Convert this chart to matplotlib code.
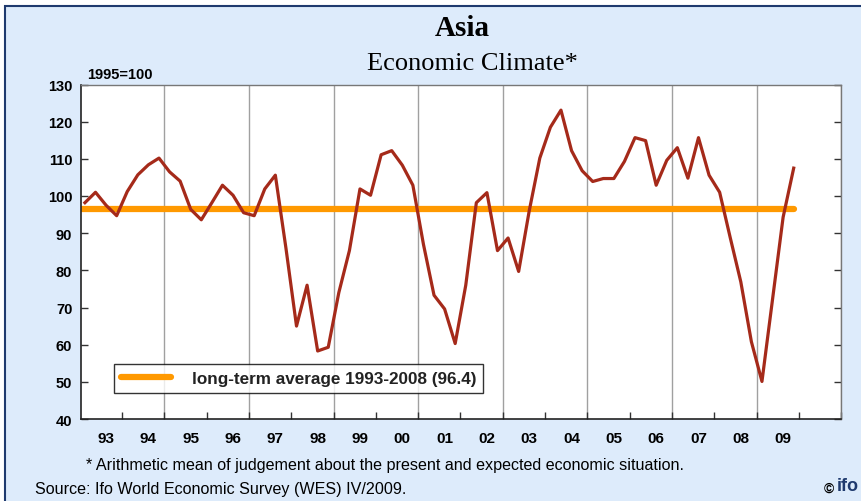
import numpy as np
import matplotlib
matplotlib.use('Agg')
import matplotlib.pyplot as plt
from matplotlib.patches import Rectangle

# quarterly values 1993 Q1 .. 2009 Q4 (1995=100)
years = ['93', '94', '95', '96', '97', '98', '99', '00', '01',
         '02', '03', '04', '05', '06', '07', '08', '09']
climate = [
    98.2, 101.0, 97.5, 94.7,
    101.2, 105.7, 108.4, 110.2,
    106.5, 104.0, 96.4, 93.6,
    98.2, 102.9, 100.2, 95.5,
    94.7, 101.9, 105.6, 86.0,
    65.0, 76.0, 58.3, 59.3,
    74.0, 85.3, 101.9, 100.2,
    111.1, 112.2, 108.3, 102.9,
    87.0, 73.3, 69.6, 60.3,
    76.0, 98.2, 100.9, 85.3,
    88.7, 79.7, 96.0, 110.2,
    118.5, 123.1, 112.2, 106.8,
    103.9, 104.7, 104.7, 109.3,
    115.7, 114.9, 102.9, 109.6,
    113.0, 104.8, 115.7, 105.6,
    101.0, 88.8, 76.9, 60.8,
    50.1, 72.2, 94.3, 107.5,
]
long_term_avg = 96.4
y_ticks = [40, 50, 60, 70, 80, 90, 100, 110, 120, 130]

bg = '#DDEBFB'
sans = ['Liberation Sans', 'DejaVu Sans']
serif = ['Liberation Serif', 'DejaVu Serif']

fig = plt.figure(figsize=(8.61, 5.02), dpi=100)
fig.patch.set_facecolor('white')
# light blue panel with dark blue border
panel = Rectangle((5 / 861, -0.1), 1.1, 1 - 7 / 502 + 0.1,
                  transform=fig.transFigure, facecolor=bg,
                  edgecolor='#1F3A6E', linewidth=1.5, zorder=-10)
fig.patches.append(panel)

ax = fig.add_axes([80.7 / 861, 1 - 420 / 502, (841.3 - 80.7) / 861, (420 - 85.5) / 502])
ax.set_zorder(1)
ax.set_facecolor('white')

x = np.arange(len(climate))
ax.plot([-0.3, len(climate) - 1], [long_term_avg, long_term_avg],
        color='#FF9900', linewidth=4.5, solid_capstyle='round', zorder=2,
        label='long-term average 1993-2008 (96.4)')
ax.plot(x, climate, color='#A52A1A', linewidth=2.3, zorder=3)

ax.set_xlim(-0.4, 71.5)
ax.set_ylim(40, 130)
ax.set_yticks(y_ticks)
ax.set_yticklabels([str(v) for v in y_ticks], fontsize=10.5, fontweight='bold', family=sans)

# year boundaries as ticks, every second one as grid line
bounds = np.arange(3.5, 72, 4)
ax.set_xticks(bounds)
ax.set_xticklabels([])
for b in bounds[1::2]:
    ax.axvline(b, color='#A0A0A0', linewidth=1.0, zorder=1)
for i, yr in enumerate(years):
    ax.text(4 * i + 2, -0.035, yr, transform=ax.get_xaxis_transform(),
            ha='center', va='top', fontsize=11, fontweight='bold', family=sans)

ax.tick_params(axis='x', direction='in', length=5, width=1, color='#333333')
ax.tick_params(axis='y', direction='in', length=5, width=1, color='#333333',
               left=True, right=True, pad=6)
for side in ['left', 'bottom']:
    ax.spines[side].set_color('#222222')
    ax.spines[side].set_linewidth(1.2)
for side in ['top', 'right']:
    ax.spines[side].set_color('#777777')
    ax.spines[side].set_linewidth(1.0)

leg = ax.legend(loc='lower left', bbox_to_anchor=(0.044, 0.078), borderaxespad=0,
                frameon=True, fancybox=False, handlelength=2.9, handletextpad=1.25,
                borderpad=0.4, prop={'family': sans, 'size': 12.3, 'weight': 'bold'})
leg.get_frame().set_edgecolor('black')
leg.get_frame().set_linewidth(1.0)
for t in leg.get_texts():
    t.set_color('#222222')

fig.text(462 / 861, 1 - 28 / 502, 'Asia', ha='center', va='center',
         fontsize=21, fontweight='bold', family=serif)
fig.text(472 / 861, 1 - 64 / 502, 'Economic Climate*', ha='center', va='center',
         fontsize=19, family=serif)
fig.text(87 / 861, 1 - 75 / 502, '1995=100', ha='left', va='center',
         fontsize=10.5, fontweight='bold', family=sans)

fig.text(86 / 861, 1 - 466 / 502,
         '* Arithmetic mean of judgement about the present and expected economic situation.',
         ha='left', va='center', fontsize=11.6, family=sans)
fig.text(35 / 861, 1 - 490 / 502, 'Source: Ifo World Economic Survey (WES) IV/2009.',
         ha='left', va='center', fontsize=11.6, family=sans)
fig.text(829 / 861, 1 - 489 / 502, '©', ha='center', va='center',
         fontsize=10, fontweight='bold', family=sans)
fig.text(837 / 861, 1 - 487 / 502, 'ifo', ha='left', va='center',
         fontsize=13, fontweight='bold', family=sans, color='#1F3A6E')

fig.savefig('out.png', dpi=100, facecolor=fig.get_facecolor())
